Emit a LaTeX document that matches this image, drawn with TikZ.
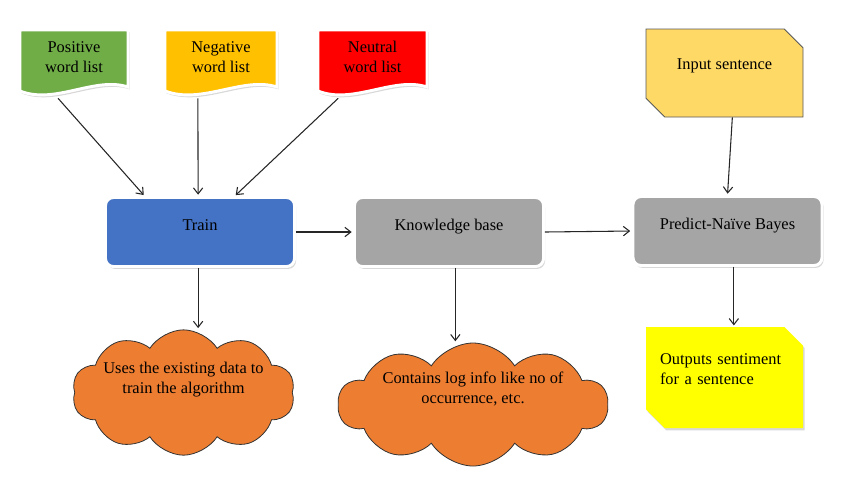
\documentclass[tikz,border=0pt]{standalone}
\usepackage{fontspec}
\setmainfont{Liberation Serif}
\newfontfamily\diagfont{Liberation Serif}
\usetikzlibrary{shapes.symbols,shapes.misc,shadows,arrows.meta}

\definecolor{posgreen}{HTML}{70AD47}
\definecolor{neggold}{HTML}{FFC000}
\definecolor{neured}{HTML}{FF0000}
\definecolor{inputgold}{HTML}{FFD966}
\definecolor{trainblue}{HTML}{4472C4}
\definecolor{kbgray}{HTML}{A5A5A5}
\definecolor{noteorange}{HTML}{ED7D31}
\definecolor{outyellow}{HTML}{FFFF00}

% raise a (multi-line) text without changing the size TikZ sees
\newcommand\lift[3][c]{\raisebox{#2}[\height][\depth]{\begin{tabular}{@{}#1@{}}#3\end{tabular}}}

\begin{document}
\begin{tikzpicture}[x=0.75pt,y=0.75pt,yscale=-1,xscale=1,
  every node/.style={font=\diagfont\fontsize{12.3}{15}\selectfont},
  softshadow/.style={drop shadow={shadow xshift=1.2pt,shadow yshift=-1.8pt,fill=black!30}},
  docshape/.style={draw=white,line width=2.2pt,softshadow},
  doctext/.style={minimum width=81pt,minimum height=51pt,inner sep=0pt},
  procbox/.style={rectangle,rounded corners=6pt,draw=white,line width=2.2pt,minimum width=141.75pt,minimum height=51.75pt,inner sep=0pt,softshadow},
  snipbox/.style={chamfered rectangle,chamfered rectangle corners={north east,south west},chamfered rectangle xsep=7pt,chamfered rectangle ysep=7pt,minimum width=117.75pt,inner sep=0pt},
  note/.style={cloud,cloud puffs=10,cloud puff arc=115,cloud ignores aspect,draw=black!80,line width=0.6pt,fill=noteorange,inner sep=0pt},
  link/.style={-{Straight Barb[length=4.5pt,width=7pt]},line width=0.8pt,black!85,shorten >=1pt}]
\useasboundingbox (0,0) rectangle (852,487);

%Shape: Document
\draw[docshape,fill=posgreen] (20,30) -- (128,30) -- (128,87) .. controls (95,76) and (55,105) .. (20,91) -- cycle;
%Shape: Document
\draw[docshape,fill=neggold] (165,30) -- (277,30) -- (277,87) .. controls (243,76) and (202,105) .. (165,91) -- cycle;
%Shape: Document
\draw[docshape,fill=neured] (318,30) -- (427,30) -- (427,87) .. controls (394,76) and (353,105) .. (318,91) -- cycle;

% Text Node
\node[doctext] (pos) at (74,64) {\lift{4.5pt}{Positive\\word list}};
% Text Node
\node[doctext] (neg) at (221,64) {\lift{4.5pt}{Negative\\word list}};
% Text Node
\node[doctext] (neu) at (372.5,64) {\lift{4.5pt}{Neutral\\word list}};

%Rounded Rect
\node[procbox,fill=trainblue] (train) at (200,232) {\lift{4pt}{Train}};
%Rounded Rect
\node[procbox,fill=kbgray] (kb) at (449,232) {\lift{4pt}{Knowledge base}};
%Rounded Rect
\node[procbox,fill=kbgray] (pred) at (727.5,231) {\lift{4pt}{Predict-Naïve Bayes}};

%Shape: Snip Rect
\node[snipbox,draw=black!65,line width=0.7pt,fill=inputgold,minimum height=66pt] (inp) at (724.5,73) {\lift{6pt}{Input sentence}};
%Shape: Snip Rect
\node[snipbox,fill=outyellow,minimum height=75.75pt,text width=96.75pt,inner xsep=3.5pt,align=left,softshadow] (out) at (724.5,377.5) {\lift[l]{5.6pt}{Outputs sentiment\\for a sentence}};

%Shape: Cloud
\node[note,minimum width=167pt,minimum height=94pt,label={center:\lift{9.4pt}{Uses the existing data to\\train the algorithm}}] (c1) at (183.5,392.5) {};
%Shape: Cloud
\node[note,minimum width=202.5pt,minimum height=92.25pt,label={center:\lift{10.9pt}{Contains log info like no of\\occurrence, etc.}}] (c2) at (473,404.5) {};

%Straight Lines
\draw[link] (pos.245) -- (train.147);
\draw[link] (neg.236) -- (train.93);
\draw[link] (neu.225) -- (train.46);
\draw[link] (inp.280) -- (pred.north);
\draw[link] (train.east) -- (kb.west);
\draw[link] (kb.east) -- (pred.west);
\draw[link] (train.267) -- (train.267 |- c1.north);
\draw[link] (kb.280) -- (kb.280 |- c2.north);
\draw[link] (pred.280) -- (pred.280 |- out.north);

\end{tikzpicture}
\end{document}
